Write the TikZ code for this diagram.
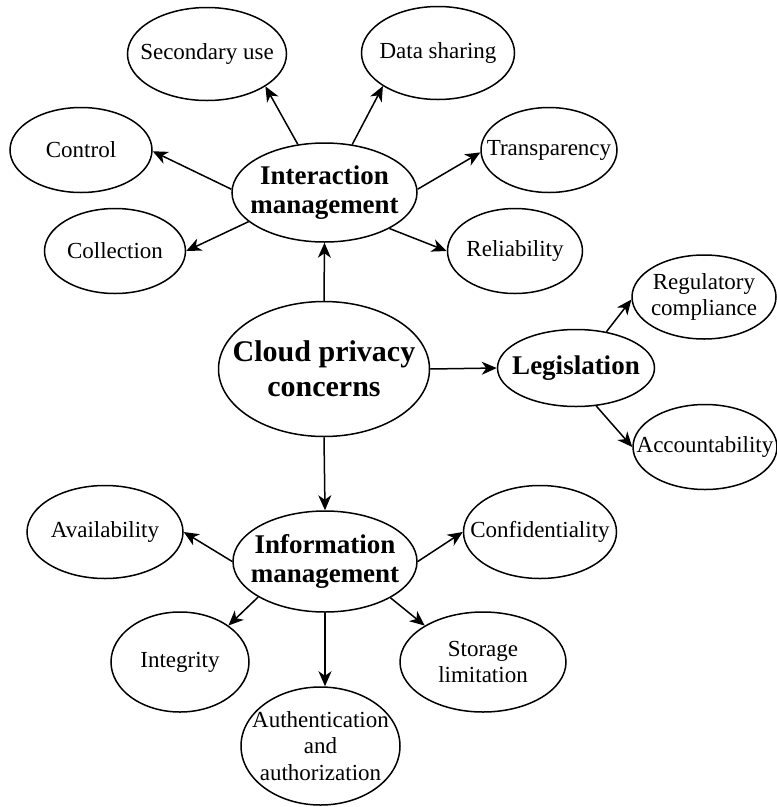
\documentclass[tikz,border=0pt]{standalone}
\usepackage{fontspec}
\setmainfont{Liberation Serif}
\usetikzlibrary{shapes.geometric,arrows.meta}
\tikzset{
  bub/.style args={#1/#2}{ellipse, draw, line width=1.5pt, minimum width=#1, minimum height=#2, inner sep=0pt},
  txt/.style={align=center, inner sep=0pt, font=\fontsize{23}{26.5}\selectfont},
  btxt/.style={align=center, inner sep=0pt, font=\bfseries\fontsize{27}{29.5}\selectfont},
  ctxt/.style={align=center, inner sep=0pt, font=\bfseries\fontsize{30}{35}\selectfont},
  arr/.style={line width=1.5pt, -{Stealth[length=15pt,width=13pt,inset=4.5pt]}}
}
\begin{document}
\begin{tikzpicture}[x=1pt,y=-1pt]
\useasboundingbox (0,0) rectangle (777,807);
% ellipses
\node[bub=159/93] (su) at (207,54) {};
\node[bub=153/93] (ds) at (438,53) {};
\node[bub=142/85] (ctl) at (81,150) {};
\node[bub=136/85] (tr) at (549,150) {};
\node[bub=185/99] (im) at (324.5,192.5) {};
\node[bub=141/85] (col) at (115,251) {};
\node[bub=135/85] (rel) at (515,251) {};
\node[bub=144/84] (reg) at (704,297) {};
\node[bub=211/135] (cpc) at (324,369) {};
\node[bub=157/77] (leg) at (576,368) {};
\node[bub=144/85] (acc) at (705,447) {};
\node[bub=156/93] (av) at (105,532) {};
\node[bub=184/101] (inf) at (325,561.5) {};
\node[bub=153/93] (conf) at (540,532) {};
\node[bub=138/100] (int) at (180,662) {};
\node[bub=166/100] (sto) at (483,662) {};
\node[bub=159/118] (auth) at (320.5,746) {};
% texts
\node[txt] (su-t) at (su) {Secondary use};
\node[txt] (ds-t) at (ds) {Data sharing};
\node[txt] (ctl-t) at (ctl) {Control};
\node[txt] (tr-t) at (tr) {Transparency};
\node[btxt] (im-t) at (im) {Interaction\\management};
\node[txt] (col-t) at (col) {Collection};
\node[txt] (rel-t) at (rel) {Reliability};
\node[txt] (reg-t) at (reg) {Regulatory\\compliance};
\node[ctxt] (cpc-t) at (cpc) {Cloud privacy\\concerns};
\node[btxt] (leg-t) at (leg) {Legislation};
\node[txt] (acc-t) at (acc) {Accountability};
\node[txt] (av-t) at (av) {Availability};
\node[btxt] (inf-t) at (inf) {Information\\management};
\node[txt] (conf-t) at (conf) {Confidentiality};
\node[txt] (int-t) at (int) {Integrity};
\node[txt] (sto-t) at (sto) {Storage\\limitation};
\node[txt] (auth-t) at (auth) {Authentication\\and\\authorization};
% arrows
\draw[arr] (im.119) -- (su.331);
\draw[arr] (im.60) -- (ds.211);
\draw[arr] (im.178) -- (ctl.359);
\draw[arr] (im.201) -- (col.0);
\draw[arr] (im.2) -- (tr.182);
\draw[arr] (im.331) -- (rel.180);
\draw[arr] (cpc.north) -- (im.south);
\draw[arr] (cpc.east) -- (leg.west);
\draw[arr] (cpc.south) -- (inf.north);
\draw[arr] (leg.50) -- (reg.182);
\draw[arr] (leg.298) -- (acc.180);
\draw[arr] (inf.180) -- (av.0);
\draw[arr] (inf.208) -- (int.37);
\draw[arr] (inf.south) -- (inf.south |- auth.north);
\draw[arr] (inf.0) -- (conf.180);
\draw[arr] (inf.331) -- (sto.148);
\end{tikzpicture}
\end{document}
